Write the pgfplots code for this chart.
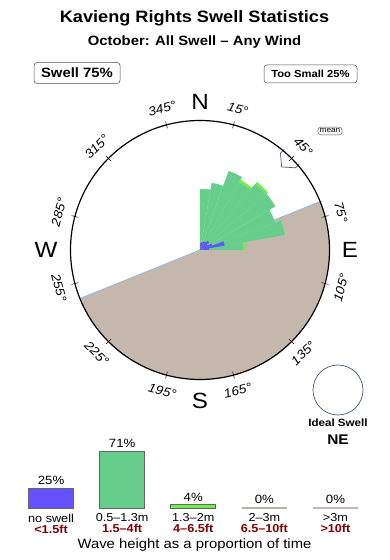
\documentclass[border=0pt]{standalone}
\usepackage{fontspec}
\setmainfont{Liberation Sans}[FakeStretch=1.1]
\usepackage{pgfplots}
\pgfplotsset{compat=1.18}
\usepgfplotslibrary{polar}
\definecolor{swgreen}{RGB}{102,206,138}
\definecolor{swgreenline}{RGB}{112,211,146}
\definecolor{swlime}{RGB}{112,238,72}
\definecolor{swblue}{RGB}{100,82,255}
\definecolor{land}{RGB}{196,184,172}
\definecolor{coast}{RGB}{150,185,225}
\definecolor{slate}{RGB}{60,90,125}
\definecolor{darkred}{RGB}{128,0,0}
\definecolor{gr3}{RGB}{185,178,165}
\definecolor{gr4}{RGB}{200,178,172}
\begin{document}
\begin{tikzpicture}
\path[use as bounding box] (0,0) rectangle (390pt,560pt);
\begin{axis}[name=main, at={(0,0)}, anchor=south west, scale only axis,
  width=390pt, height=560pt, xmin=-200, xmax=190, ymin=-310, ymax=250,
  hide axis, clip=false]
% titles
\node[font=\bfseries\fontsize{16.5}{16.5}\selectfont] at (axis cs:-5.5,232) {Kavieng Rights Swell Statistics};
\node[font=\bfseries\fontsize{13.5}{13.5}\selectfont] at (axis cs:-5.5,208) {October: All Swell -- Any Wind};
\node[draw=black!70, rounded corners=3pt, line width=0.5pt, inner sep=2.5pt, minimum width=86pt, minimum height=21pt, font=\bfseries\fontsize{13.5}{13.5}\selectfont] at (axis cs:-123,177) {Swell 75\%};
\node[draw=black!70, rounded corners=3pt, line width=0.5pt, inner sep=2pt, minimum width=93pt, minimum height=18pt, font=\bfseries\fontsize{10.2}{10.2}\selectfont] at (axis cs:110.5,176) {Too Small 25\%};
% land sector
\fill[land] (axis cs:0,0) -- ++(22:129.5pt) arc[start angle=22, end angle=-158, radius=129.5pt] -- cycle;
\draw[coast, line width=0.8pt] (axis cs:0,0) ++(22:129.5pt) -- ++(202:259pt);
% lime (1.3-2m) wedges
\addplot[data cs=polar, fill=swlime, draw=none] coordinates {(0,0) (60,81) (55,81) (50,81)};
\addplot[data cs=polar, fill=swlime, draw=none] coordinates {(0,0) (50,89) (45,89) (40,89)};
\addplot[data cs=polar, fill=swlime, draw=none] coordinates {(0,0) (10,46) (5,46) (0,46)};
% green (0.5-1.3m) wedges
\addplot[data cs=polar, fill=swgreen, draw=swgreenline, line width=0.3pt] coordinates {(0,0) (90,61) (85,61) (80,61)};
\addplot[data cs=polar, fill=swgreen, draw=swgreenline, line width=0.3pt] coordinates {(0,0) (80,68) (75,68) (70,68)};
\addplot[data cs=polar, fill=swgreen, draw=swgreenline, line width=0.3pt] coordinates {(0,0) (70,84) (65,84) (60,84)};
\addplot[data cs=polar, fill=swgreen, draw=swgreenline, line width=0.3pt] coordinates {(0,0) (60,78) (55,78) (50,78)};
\addplot[data cs=polar, fill=swgreen, draw=swgreenline, line width=0.3pt] coordinates {(0,0) (50,86) (45,86) (40,86)};
\addplot[data cs=polar, fill=swgreen, draw=swgreenline, line width=0.3pt] coordinates {(0,0) (40,87) (35,87) (30,87)};
\addplot[data cs=polar, fill=swgreen, draw=swgreenline, line width=0.3pt] coordinates {(0,0) (30,80) (25,80) (20,80)};
\addplot[data cs=polar, fill=swgreen, draw=swgreenline, line width=0.3pt] coordinates {(0,0) (20,86) (15,86) (10,86)};
\addplot[data cs=polar, fill=swgreen, draw=swgreenline, line width=0.3pt] coordinates {(0,0) (10,43) (5,43) (0,43)};
% blue (no swell) wedges
\addplot[data cs=polar, fill=swblue, draw=none] coordinates {(0,0) (90,7) (85,7) (80,7)};
\addplot[data cs=polar, fill=swblue, draw=none] coordinates {(0,0) (80,8) (75,8) (70,8)};
\addplot[data cs=polar, fill=swblue, draw=none] coordinates {(0,0) (70,9) (65,9) (60,9)};
\addplot[data cs=polar, fill=swblue, draw=none] coordinates {(0,0) (60,10) (55,10) (50,10)};
\addplot[data cs=polar, fill=swblue, draw=none] coordinates {(0,0) (50,12) (45,12) (40,12)};
\addplot[data cs=polar, fill=swblue, draw=none] coordinates {(0,0) (40,9) (35,9) (30,9)};
\addplot[data cs=polar, fill=swblue, draw=none] coordinates {(0,0) (30,13) (25,13) (20,13)};
\addplot[data cs=polar, fill=swblue, draw=none] coordinates {(0,0) (20,25) (15,25) (10,25)};
\addplot[data cs=polar, fill=swblue, draw=none] coordinates {(0,0) (10,9) (5,9) (0,9)};
% mean arrow
\begin{scope}[shift={(axis cs:0,0)}, rotate=45.5]
\draw[slate, line width=0.7pt] (131pt,10.5pt) -- (125.5pt,10.5pt) -- (116.5pt,0pt) -- (125.5pt,-10.5pt) -- (131pt,-10.5pt);
\end{scope}
\node[draw=black!70, rounded corners=3pt, line width=0.4pt, inner sep=1.8pt, font=\fontsize{7.5}{7.5}\selectfont] at (axis cs:130,119) {mean};
% compass circle
\draw[black, line width=1.2pt] (axis cs:0,0) circle[radius=129.5pt];
\pgfplotsinvokeforeach{75,45,15,-15,-45,-75,-105,-135,-165,-195,-225,-255}{
  \draw[black, line width=0.5pt] (axis cs:0,0) ++(#1:126pt) -- ++(#1:7pt);
}
% degree labels
\begin{scope}[font=\itshape\fontsize{12.5}{12.5}\selectfont]
\path (axis cs:0,0) ++(75:146pt) node[rotate=-15] {15°};
\path (axis cs:0,0) ++(45:146pt) node[rotate=-45] {45°};
\path (axis cs:0,0) ++(15:146pt) node[rotate=-75] {75°};
\path (axis cs:0,0) ++(-15:146pt) node[rotate=75] {105°};
\path (axis cs:0,0) ++(-45:146pt) node[rotate=45] {135°};
\path (axis cs:0,0) ++(-75:146pt) node[rotate=15] {165°};
\path (axis cs:0,0) ++(-105:146pt) node[rotate=-15] {195°};
\path (axis cs:0,0) ++(-135:146pt) node[rotate=-45] {225°};
\path (axis cs:0,0) ++(-165:146pt) node[rotate=-75] {255°};
\path (axis cs:0,0) ++(165:146pt) node[rotate=75] {285°};
\path (axis cs:0,0) ++(135:146pt) node[rotate=45] {315°};
\path (axis cs:0,0) ++(105:146pt) node[rotate=15] {345°};
\end{scope}
\begin{scope}[font=\fontsize{22}{22}\selectfont]
\node at (axis cs:0,148) {N};
\node at (axis cs:0,-151) {S};
\node at (axis cs:-154,0) {W};
\node at (axis cs:150,0) {E};
\end{scope}
% ideal swell
\draw[slate, line width=0.7pt] (axis cs:138,-140) circle[radius=25pt];
\node[font=\bfseries\fontsize{10.5}{10.5}\selectfont] at (axis cs:138,-173) {Ideal Swell};
\node[font=\bfseries\fontsize{14}{14}\selectfont] at (axis cs:138,-190) {NE};
% x label of histogram
\node[font=\fontsize{13.5}{13.5}\selectfont] at (axis cs:-5.5,-295) {Wave height as a proportion of time};
\end{axis}
% histogram
\begin{axis}[at={(15.5pt,52pt)}, anchor=south west, scale only axis,
  width=355.5pt, height=80pt, xmin=-0.5, xmax=4.5, ymin=0, ymax=100,
  axis x line=bottom, axis y line=none, x axis line style={draw=none},
  xtick={0,1,2,3,4}, xtick style={draw=none}, ytick=\empty,
  xticklabels={{no swell\\\textcolor{darkred}{\bfseries <1.5ft}},
               {0.5--1.3m\\\textcolor{darkred}{\bfseries 1.5--4ft}},
               {1.3--2m\\\textcolor{darkred}{\bfseries 4--6.5ft}},
               {2--3m\\\textcolor{darkred}{\bfseries 6.5--10ft}},
               {>3m\\\textcolor{darkred}{\bfseries >10ft}}},
  xticklabel style={align=center, font=\fontsize{11.5}{11}\selectfont, yshift=2pt},
  ybar, bar width=0.633, bar shift=0pt,
  nodes near coords={\pgfmathprintnumber[assume math mode=true]{\pgfplotspointmeta}\%},
  every node near coord/.append style={font=\fontsize{12}{12}\selectfont, black},
  clip=false]
\addplot[fill=swblue, draw=black!60, line width=0.6pt] coordinates {(0,25)};
\addplot[fill=swgreen, draw=black!60, line width=0.6pt] coordinates {(1,71)};
\addplot[fill=swlime, draw=black!60, line width=0.6pt] coordinates {(2,4)};
\addplot[fill=gr3, draw=gr3, line width=1.5pt] coordinates {(3,0)};
\addplot[fill=gr4, draw=gr4, line width=1.5pt] coordinates {(4,0)};
\end{axis}
\end{tikzpicture}
\end{document}
